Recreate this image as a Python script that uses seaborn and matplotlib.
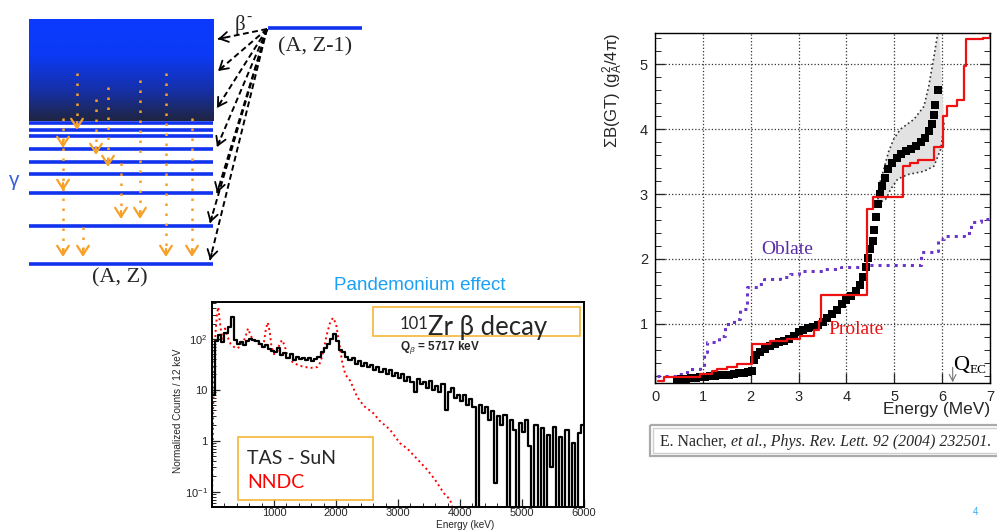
import numpy as np
import matplotlib
matplotlib.use("Agg")
import matplotlib.pyplot as plt
import seaborn as sns
from matplotlib.colors import LinearSegmentedColormap
from matplotlib.patches import Rectangle
from matplotlib.ticker import FixedLocator, MultipleLocator, NullFormatter, LogLocator

# ------------------------------------------------------------------ data
# level scheme (schematic, in slide pixels)
daughter_levels = [123, 130, 136, 149, 162, 174, 193, 226, 264]
beta_target_x = [218, 218, 217, 217, 217, 210, 210]
beta_target_y = [39, 71, 108, 147, 193, 223, 260]
gamma_x = [63, 77, 96, 108, 121, 140, 83, 166, 192]
gamma_top = [118, 73, 99, 87, 163, 80, 227, 73, 118]
gamma_heads = [[149, 192, 258], [131], [156], [168], [220], [220], [258], [258], [258]]

# 101Zr TAS spectrum (50 keV bins starting at 0 keV)
tas_bin_start = np.arange(0, 6000, 50)
tas_counts = [8, 90, 120, 85, 130, 170, 270, 95, 80, 85,
              75, 90, 100, 95, 90, 80, 70, 75, 62, 58,
              55, 65, 48, 52, 42, 50, 38, 44, 40, 42,
              38, 43, 36, 40, 45, 55, 65, 80, 100, 125,
              90, 60, 55, 45, 38, 42, 32, 36, 30, 33,
              28, 31, 25, 28, 22, 26, 20, 24, 19, 21,
              17, 20, 15, 18, 14, 9, 16, 13, 14, 11,
              15, 10, 12, 9, 13, 4, 9, 11, 7, 8,
              6, 8, 5, 6.5, 4.5, 0.001, 5, 3.5, 4.5, 2.5,
              3.8, 0.15, 3, 2, 3.2, 0.001, 2.5, 1.6, 0.001, 2.2,
              1.5, 2.6, 0.8, 0.001, 2, 0.001, 1.8, 0.001, 1.3, 0.3,
              1.9, 0.001, 1.2, 0.001, 1.6, 0.001, 0.9, 0.001, 1.4, 2.0]
nndc_energy = [0, 20, 40, 60, 80, 100, 120, 150, 180, 210, 250, 300, 350, 400, 450,
               500, 540, 580, 620, 660, 700, 750, 800, 840, 870, 900, 930, 960, 1000,
               1050, 1090, 1130, 1170, 1210, 1260, 1300, 1400, 1500, 1600, 1700, 1750,
               1800, 1850, 1900, 1950, 2000, 2060, 2100, 2150, 2230, 2340, 2450, 2600,
               2700, 2870, 3030, 3150, 3300, 3470, 3600, 3680, 3750, 3840, 3900]
nndc_counts = [0.05, 5, 60, 150, 300, 420, 250, 130, 100, 160, 110, 80, 70, 65, 70,
               85, 110, 160, 120, 95, 90, 80, 70, 90, 160, 210, 140, 70, 50,
               55, 80, 95, 75, 50, 40, 35, 30, 28, 27, 28, 35,
               60, 120, 200, 260, 200, 70, 35, 20, 15, 7.3, 4.8, 3.5,
               2.5, 1.65, 0.9, 0.7, 0.45, 0.27, 0.17, 0.12, 0.09, 0.07, 0.04]

# cumulative B(GT) (Nacher et al.)
exp_energy = [0.45, 0.55, 0.65, 0.75, 0.85, 0.95, 1.05, 1.15, 1.25, 1.35, 1.45, 1.55,
              1.65, 1.75, 1.85, 1.95, 2.02, 2.07, 2.12, 2.2, 2.3, 2.4, 2.5, 2.6, 2.7,
              2.8, 2.9, 3.0, 3.1, 3.2, 3.3, 3.4, 3.5, 3.6, 3.7, 3.8, 3.9, 4.0, 4.1,
              4.2, 4.28, 4.34, 4.4, 4.45, 4.5, 4.55, 4.58, 4.62, 4.66, 4.7, 4.75, 4.8,
              4.87, 4.95, 5.05, 5.15, 5.25, 5.35, 5.45, 5.55, 5.65, 5.72, 5.78, 5.82,
              5.86, 5.91]
exp_bgt = [0.14, 0.15, 0.15, 0.16, 0.17, 0.18, 0.19, 0.2, 0.2, 0.21, 0.22, 0.22,
           0.23, 0.24, 0.25, 0.26, 0.28, 0.45, 0.52, 0.57, 0.62, 0.66, 0.69, 0.72, 0.74,
           0.77, 0.82, 0.87, 0.9, 0.93, 0.96, 0.99, 1.03, 1.09, 1.15, 1.22, 1.3, 1.37, 1.43,
           1.5, 1.6, 1.72, 1.87, 2.02, 2.15, 2.27, 2.45, 2.65, 2.85, 3.0, 3.12, 3.25,
           3.38, 3.48, 3.56, 3.62, 3.66, 3.7, 3.74, 3.8, 3.87, 3.97, 4.08, 4.22,
           4.37, 4.6]
band_upper_E = [4.65, 4.68, 4.78, 4.88, 4.99, 5.13, 5.41, 5.62, 5.72, 5.83, 5.91, 5.93]
band_upper_B = [2.85, 3.12, 3.38, 3.65, 3.85, 4.0, 4.15, 4.35, 4.66, 5.12, 5.49, 5.6]
band_lower_E = [4.65, 4.82, 4.93, 5.07, 5.28, 5.62, 5.83, 5.97, 6.02, 6.04]
band_lower_B = [2.85, 2.92, 3.08, 3.23, 3.3, 3.35, 3.43, 3.69, 3.95, 4.1]
prolate_E = [0.06, 0.18, 0.94, 1.19, 1.3, 1.5, 1.72, 2.03, 2.4, 2.75, 3.04, 3.32, 3.42,
             3.46, 4.42, 4.55, 5.18, 5.32, 5.5, 5.83, 6.02, 6.1, 6.32, 6.45, 6.5, 6.85, 7.0]
prolate_B = [0.12, 0.18, 0.23, 0.28, 0.31, 0.34, 0.38, 0.69, 0.74, 0.77, 0.82, 0.9, 1.05,
             1.45, 2.77, 2.95, 3.43, 3.48, 3.53, 3.72, 4.2, 4.35, 4.45, 4.97, 5.38, 5.4, 5.45]
oblate_E = [0.05, 0.46, 0.66, 0.94, 1.02, 1.08, 1.33, 1.47, 1.65, 1.78, 1.93, 2.17, 2.27,
            2.62, 2.83, 3.0, 3.53, 3.88, 4.44, 5.49, 5.56, 5.87, 5.91, 6.04, 6.46, 6.6,
            6.81, 6.98]
oblate_B = [0.2, 0.23, 0.3, 0.34, 0.57, 0.72, 0.82, 1.0, 1.08, 1.23, 1.57, 1.62, 1.69,
            1.72, 1.77, 1.82, 1.85, 1.88, 1.9, 1.9, 2.1, 2.12, 2.3, 2.35, 2.4, 2.57,
            2.62, 2.7]

# ------------------------------------------------------------------ style
sns.set_theme(style="white")
plt.rcParams["font.family"] = ["Liberation Sans", "DejaVu Sans"]
plt.rcParams["mathtext.fontset"] = "custom"
plt.rcParams["mathtext.rm"] = "Liberation Sans"
plt.rcParams["mathtext.it"] = "Liberation Sans:italic"
plt.rcParams["mathtext.bf"] = "Liberation Sans:bold"

W, H = 997, 530
fig = plt.figure(figsize=(W / 100, H / 100), dpi=100)
fig.patch.set_facecolor("white")


def frac(l, t, r, b):
    return [l / W, 1 - b / H, (r - l) / W, (b - t) / H]


SERIF = ["Liberation Serif", "DejaVu Serif"]
LATO = ["Lato", "DejaVu Sans"]
ORANGE = "#f7a128"
BOXC = "#f5b637"

# ------------------------------------------------------------------ spectrum
axS = fig.add_axes(frac(212, 302, 584, 507))
axS.set_yscale("log")
tas_x = np.append(tas_bin_start, 6000)
tas_y = list(tas_counts) + [tas_counts[-1]]
sns.lineplot(x=nndc_energy, y=nndc_counts, color="red", linestyle=":", lw=1.4,
             ax=axS, legend=False)
sns.lineplot(x=tas_x, y=tas_y, drawstyle="steps-post", color="black", lw=1.6,
             ax=axS, legend=False)
axS.set_xlim(0, 6000)
axS.set_ylim(0.05, 530)
axS.yaxis.set_major_locator(FixedLocator([0.1, 1, 10, 100]))
axS.set_yticklabels(["$10^{-1}$", "1", "10", "$10^{2}$"])
axS.yaxis.set_minor_locator(LogLocator(base=10, subs=range(2, 10)))
axS.yaxis.set_minor_formatter(NullFormatter())
axS.set_xticks([1000, 2000, 3000, 4000, 5000, 6000])
axS.xaxis.set_minor_locator(MultipleLocator(200))
axS.tick_params(which="both", direction="in", labelsize=8, pad=1,
                bottom=True, left=True, top=False, right=False)
axS.tick_params(axis="y", pad=3)
axS.tick_params(which="major", length=6, width=0.9)
axS.tick_params(which="minor", length=3, width=0.7)
for s in axS.spines.values():
    s.set_color("black")
    s.set_linewidth(1.4)
axS.set_xlabel("")
axS.set_ylabel("")

# ------------------------------------------------------------------ B(GT)
axR = fig.add_axes(frac(655, 33, 990, 383))
axR.fill(list(band_upper_E) + list(band_lower_E[::-1]),
         list(band_upper_B) + list(band_lower_B[::-1]),
         color="#e2e2e2", lw=0, zorder=1)
axR.plot(band_upper_E, band_upper_B, ls=":", color="#333333", lw=1.2, zorder=2)
axR.plot(band_lower_E, band_lower_B, ls=":", color="#333333", lw=1.2, zorder=2)
sns.lineplot(x=oblate_E, y=oblate_B, drawstyle="steps-post", color="#6a35c8",
             linestyle=":", lw=2.2, ax=axR, legend=False, zorder=3)
sns.scatterplot(x=exp_energy, y=exp_bgt, marker="s", s=40, color="black",
                linewidth=0, ax=axR, legend=False, zorder=4)
sns.lineplot(x=prolate_E, y=prolate_B, drawstyle="steps-post", color="#ee1111",
             lw=1.6, ax=axR, legend=False, zorder=5)
axR.set_xlim(0, 7)
axR.set_ylim(0.09, 5.48)
axR.set_xticks(range(0, 8))
axR.set_yticks([1, 2, 3, 4, 5])
axR.yaxis.set_minor_locator(MultipleLocator(0.2))
axR.grid(True, which="major", ls=":", color="#333333", lw=0.9)
axR.set_axisbelow(True)
axR.tick_params(which="both", direction="in", labelsize=10.5, pad=5,
                bottom=True, left=True, top=False, right=True)
axR.tick_params(which="major", length=7, width=0.9)
axR.tick_params(which="minor", length=4, width=0.7)
for s in axR.spines.values():
    s.set_color("black")
    s.set_linewidth(1.0)
axR.set_xlabel("Energy (MeV)", fontsize=12.5, loc="right")
axR.xaxis.set_label_coords(1.0, -0.055)
axR.set_ylabel(r"ΣB(GT) (g$_{\mathrm{A}}^{2}$/4π)", fontsize=12, loc="top")
axR.yaxis.set_label_coords(-0.09, 1.0)
axR.text(2.77, 2.15, "Oblate", color="#5a2ca8", fontsize=14, family=SERIF,
         ha="center", va="center", zorder=6)
axR.text(4.2, 0.92, "Prolate", color="#ee1111", fontsize=14, family=SERIF,
         ha="center", va="center", zorder=6)
axR.text(6.22, 0.29, "Q", color="black", fontsize=16, family=SERIF,
         ha="left", va="baseline", zorder=6)
axR.text(6.58, 0.24, "EC", color="black", fontsize=9.5, family=SERIF,
         ha="left", va="baseline", zorder=6)
axR.annotate("", xy=(6.22, 0.1), xytext=(6.22, 0.33),
             arrowprops=dict(arrowstyle="->", color="#777777", lw=0.8,
                             shrinkA=0, shrinkB=0), zorder=6)

# ------------------------------------------------------------------ overlay
ax0 = fig.add_axes([0, 0, 1, 1], zorder=10)
ax0.patch.set_alpha(0)

# quasi-continuum gradient
cmap = LinearSegmentedColormap.from_list(
    "lv", [(0, "#0b3bff"), (0.35, "#0b3af5"), (0.7, "#1630a8"), (1, "#1f2540")])
grad = np.linspace(0, 1, 256).reshape(-1, 1)
ax0.imshow(grad, cmap=cmap, extent=[29, 213, 121, 19], aspect="auto", zorder=1)
for y in daughter_levels:
    ax0.plot([29, 213], [y, y], color="#1133ee", lw=2.6, solid_capstyle="butt", zorder=2)
ax0.plot([268, 362], [28, 28], color="#1133ee", lw=2.6, solid_capstyle="butt", zorder=2)

# beta feeding arrows
for tx, ty in zip(beta_target_x, beta_target_y):
    ax0.plot([267, tx], [29, ty], color="black", ls=(0, (3, 1.8)), lw=1.4, zorder=4)
    d = np.array([tx - 267, ty - 29], dtype=float)
    d /= np.hypot(*d)
    ax0.annotate("", xy=(tx, ty), xytext=(tx - 7 * d[0], ty - 7 * d[1]),
                 arrowprops=dict(arrowstyle="->,head_length=0.5,head_width=0.3",
                                 color="black", lw=1.3, shrinkA=0, shrinkB=0,
                                 mutation_scale=12), zorder=4)

# gamma cascades
for gx, gt, heads in zip(gamma_x, gamma_top, gamma_heads):
    ax0.plot([gx, gx], [gt, heads[-1] - 5], color=ORANGE, ls=(0, (1, 3)), lw=1.8, zorder=3)
    for hy in heads:
        ax0.annotate("", xy=(gx, hy - 1), xytext=(gx, hy - 9),
                     arrowprops=dict(arrowstyle="->,head_length=0.55,head_width=0.35",
                                     color=ORANGE, lw=1.6, shrinkA=0, shrinkB=0,
                                     mutation_scale=12), zorder=3)

ax0.text(240, 25, "β", fontsize=15, family=SERIF, ha="center", va="center")
ax0.text(249, 17, "-", fontsize=11, family=SERIF, ha="center", va="center")
ax0.text(315, 47, "(A, Z-1)", fontsize=16, family=SERIF, ha="center", va="center")
ax0.text(120, 278, "(A, Z)", fontsize=16, family=SERIF, ha="center", va="center")
ax0.text(14, 180, "γ", fontsize=15, color="#3a5fd8", ha="center", va="center")

# spectrum annotations
ax0.text(420, 285, "Pandemonium effect", fontsize=13.5, color="#1aa0f5",
         ha="center", va="center")
ax0.text(178, 411, "Normalized Counts / 12 keV", fontsize=7.2, rotation=90,
         ha="center", va="center")
ax0.text(465, 525.5, "Energy (keV)", fontsize=7.2, ha="center", va="center")
ax0.add_patch(Rectangle((373, 307), 207, 29, fill=False, ec=BOXC, lw=1.2, zorder=5))
ax0.text(428, 335, "Zr β decay", fontsize=18.5, family=LATO,
         ha="left", va="baseline", zorder=6)
ax0.text(428, 329, "101", fontsize=12, family=LATO,
         ha="right", va="baseline", zorder=6)
ax0.text(400, 347, r"Q$_{\beta}$ = 5717 keV", fontsize=8.5, fontweight="bold",
         ha="left", va="center", zorder=6)
ax0.add_patch(Rectangle((238, 437), 135, 63, fill=False, ec=BOXC, lw=1.2, zorder=5))
ax0.text(247, 458, "TAS - SuN", fontsize=14, family=LATO,
         ha="left", va="center", zorder=6)
ax0.text(247, 483, "NNDC", fontsize=14, color="red", family=LATO,
         ha="left", va="center", zorder=6)

# citation box
ax0.add_patch(Rectangle((650, 425), 360, 31, fill=False, ec="#aaaaaa", lw=1.6, zorder=5))
ax0.add_patch(Rectangle((653, 428), 360, 25, fill=False, ec="#cfcfcf", lw=1.0, zorder=5))
t1 = ax0.text(660, 446, "E. Nacher, ", fontsize=11.4, family=SERIF,
              ha="left", va="baseline", zorder=6)
ax0.annotate("et al., Phys. Rev. Lett. 92 (2004) 232501.", xy=(1, 0), xycoords=t1,
             fontsize=11.4, family=SERIF, style="italic", ha="left", va="bottom",
             zorder=6)
ax0.text(975, 512, "4", fontsize=7, color="#33aaee", ha="center", va="center")

ax0.set_xlim(0, W)
ax0.set_ylim(H, 0)
ax0.set_axis_off()

fig.savefig("out.png", dpi=100)
